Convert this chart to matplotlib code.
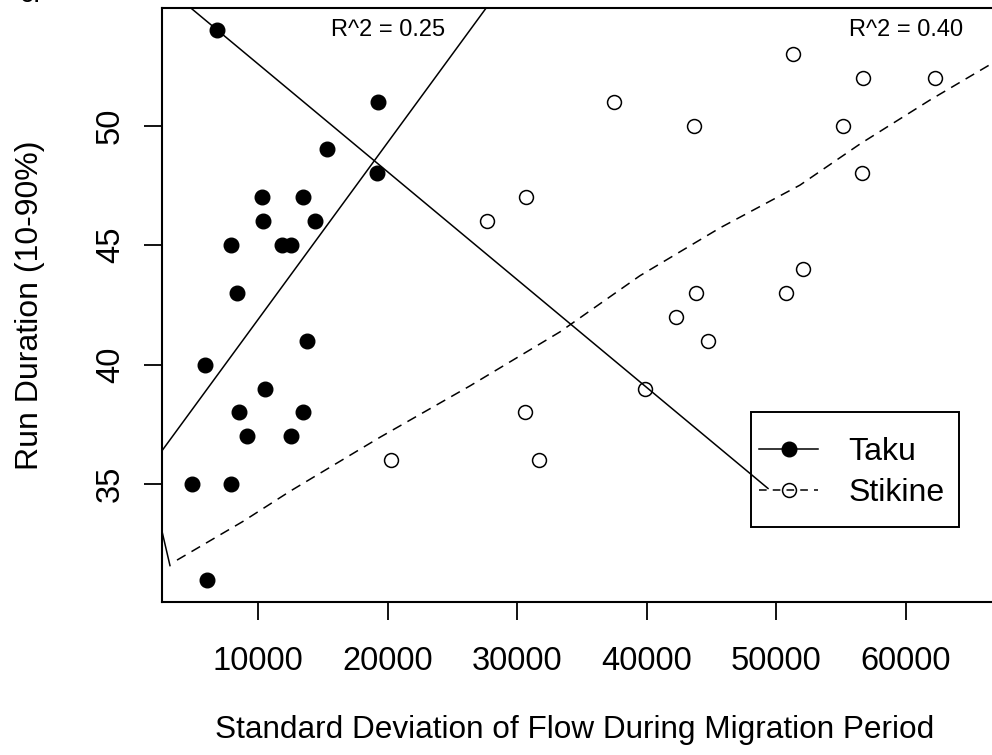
import matplotlib
matplotlib.use("Agg")
import matplotlib.pyplot as plt
from matplotlib.lines import Line2D
from matplotlib.patches import Rectangle

plt.rcParams['font.family'] = ['Liberation Sans', 'DejaVu Sans']

# Taku: SD of flow vs run duration
taku_sd = [6830, 19270, 15330, 19140, 10260, 13480, 10390, 14380, 7890, 11810,
           12500, 8380, 13780, 5910, 10540, 8530, 13480, 9150, 12550, 4850,
           7890, 6060]
taku_dur = [54, 51, 49, 48, 47, 47, 46, 46, 45, 45,
            45, 43, 41, 40, 39, 38, 38, 37, 37, 35,
            35, 31]

# Stikine
stikine_sd = [20220, 27660, 30590, 30670, 31680, 37470, 39860, 42260, 43650,
              43800, 44730, 50750, 52070, 51270, 55170, 56620, 56720, 62250]
stikine_dur = [36, 46, 38, 47, 36, 51, 39, 42, 50,
               43, 41, 43, 44, 53, 50, 48, 52, 52]

# fitted lines
taku_fit = (34.5, 0.00074)          # intercept, slope
cross_fit = (57.08, -0.000451)
cross_fit_end = 49360
hook_x = [2000, 3180]
hook_y = [34.34, 31.59]
smooth_x = [3722, 8819, 12448, 19398, 26347, 33297, 39475, 45653, 51830,
            56463, 61869, 66656]
smooth_y = [31.82, 33.44, 34.70, 36.96, 39.11, 41.37, 43.72, 45.72, 47.51,
            49.23, 51.07, 52.60]

r2_labels = ['R^2 = 0.25', 'R^2 = 0.40']
r2_x = [20000, 60000]
r2_y = 54

fig = plt.figure(figsize=(9.92, 7.55), dpi=100)
W, H = 992, 755
ax = fig.add_axes([162 / W, (H - 601.7) / H, (995 - 162) / W, (601.7 - 8) / H])

ax.plot(taku_sd, taku_dur, 'o', color='black', ms=10.5, zorder=3)
ax.plot(stikine_sd, stikine_dur, 'o', mfc='none', mec='black', mew=1.1,
        ms=10, zorder=3)

ax.axline((0, taku_fit[0]), slope=taku_fit[1], color='black', lw=1.1)
x0 = 0
ax.plot([x0, cross_fit_end],
        [cross_fit[0] + cross_fit[1] * x0, cross_fit[0] + cross_fit[1] * cross_fit_end],
        color='black', lw=1.1)
ax.plot(hook_x, hook_y, color='black', lw=1.1)
ax.plot(smooth_x, smooth_y, color='black', lw=1.1, linestyle=(0, (6.5, 4.5)))

for lab, xx in zip(r2_labels, r2_x):
    ax.text(xx, r2_y, lab, ha='center', va='center', fontsize=17)

ax.set_xlim(2564, (995 - 128.8) / 0.01295)
ax.set_ylim(30.08, 54.92)
ax.set_xticks([10000, 20000, 30000, 40000, 50000, 60000])
ax.set_yticks([35, 40, 45, 50])

for side in ['left', 'bottom', 'top', 'right']:
    ax.spines[side].set_linewidth(1.5)

ax.tick_params(axis='both', direction='out', length=13, width=1.3, labelsize=23.5)
ax.tick_params(axis='x', pad=19)
ax.tick_params(axis='y', pad=13, labelrotation=90)
plt.setp(ax.get_yticklabels(), va='center')

ax.set_xlabel('Standard Deviation of Flow During Migration Period', fontsize=22.7)
ax.set_ylabel('Run Duration (10-90%)', fontsize=23)
ax.xaxis.set_label_coords((575 - 162) / (995 - 162), -0.19)
ax.yaxis.set_label_coords((45 - 162) / (995 - 162), 0.5)

handles = [
    Line2D([], [], color='black', lw=1.1, marker='o', ms=10.5),
    Line2D([], [], color='black', lw=1.1, linestyle=(0, (5, 4)), marker='o',
           mfc='none', mew=1.1, ms=10),
]
ax.legend(handles, ['Taku', 'Stikine'], loc='upper left', frameon=False,
          fontsize=23, handlelength=1.85, handletextpad=0.94, labelspacing=0.34,
          borderpad=0, borderaxespad=0, numpoints=1,
          bbox_to_anchor=(759 / W, 1 - 437 / H), bbox_transform=fig.transFigure)
fig.add_artist(Rectangle((751 / W, 1 - 527 / H), (959 - 751) / W, (527 - 412) / H,
                         transform=fig.transFigure, fill=False, lw=1.4, ec='black'))

# panel letter, mostly above the top edge
fig.text(20 / W, 1 - 1.5 / H, 'c.', fontsize=20, va='baseline', ha='left')

fig.savefig('out.png', dpi=100)
